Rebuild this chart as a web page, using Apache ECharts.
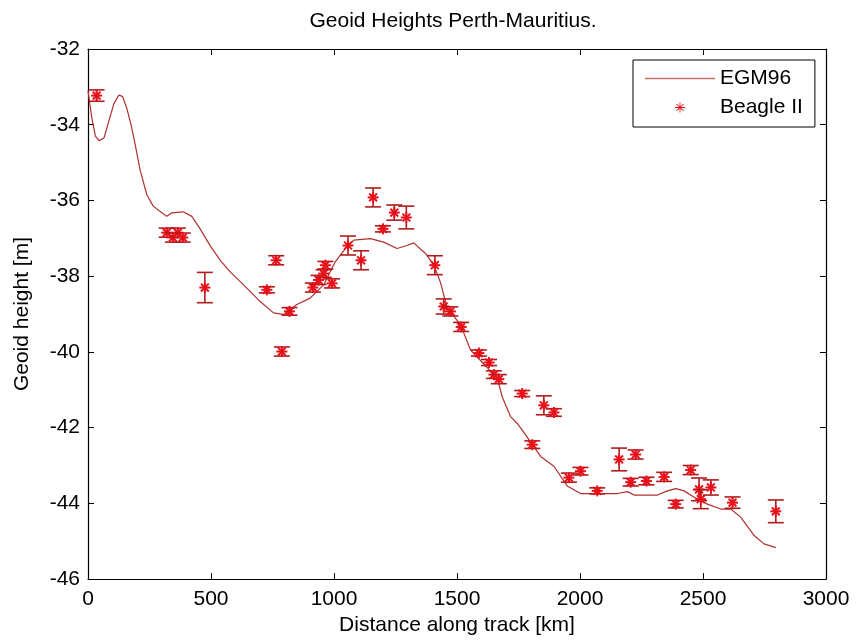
<!DOCTYPE html>
<html>
<head>
<meta charset="utf-8">
<script src="https://cdn.jsdelivr.net/npm/echarts@6/dist/echarts.min.js"></script>
<style>html,body{margin:0;padding:0;background:#fff;}#c{width:858px;height:641px;}</style>
</head>
<body>
<div id="c"></div>
<script>
// EGM96 model curve: distance [km], geoid height [m]
var egmX = [0,15,30,45,65,85,105,125,140,157,175,191,212,239,265,295,320,340,387,422,456,497,540,580,620,659,700,754,795,849,903,958,1005,1046,1080,1148,1202,1256,1297,1324,1372,1406,1433,1460,1514,1555,1609,1663,1684,1718,1745,1779,1840,1894,1948,2002,2084,2152,2193,2220,2315,2355,2389,2423,2464,2518,2572,2613,2654,2708,2748,2796];
var egmY = [-33.1,-33.8,-34.3,-34.42,-34.35,-33.9,-33.45,-33.22,-33.25,-33.55,-34.0,-34.5,-35.2,-35.85,-36.15,-36.3,-36.42,-36.33,-36.3,-36.42,-36.75,-37.2,-37.6,-37.9,-38.15,-38.4,-38.67,-38.97,-39.01,-38.75,-38.58,-38.23,-37.62,-37.27,-37.05,-37.01,-37.1,-37.27,-37.19,-37.12,-37.4,-37.71,-38.17,-38.84,-39.28,-39.95,-40.32,-40.68,-41.19,-41.71,-41.89,-42.19,-42.76,-43.02,-43.54,-43.74,-43.74,-43.74,-43.69,-43.78,-43.78,-43.67,-43.61,-43.67,-43.84,-44.02,-44.15,-44.15,-44.37,-44.85,-45.07,-45.17];

// Beagle II measurements: distance [km], geoid height [m], error [m]
var beagleX = [35,320,345,365,385,475,727,765,788,819,914,937,958,965,992,1057,1110,1159,1199,1245,1294,1410,1446,1473,1517,1589,1630,1650,1670,1765,1806,1853,1894,1955,2002,2070,2159,2206,2226,2270,2342,2389,2450,2484,2491,2532,2620,2796];
var beagleY = [-33.23,-36.85,-36.98,-36.85,-36.98,-38.3,-38.36,-37.58,-39.99,-38.93,-38.3,-38.1,-37.93,-37.71,-38.19,-37.19,-37.58,-35.92,-36.75,-36.32,-36.45,-37.71,-38.8,-38.93,-39.34,-40.03,-40.28,-40.6,-40.72,-41.1,-42.45,-41.41,-41.6,-43.32,-43.15,-43.67,-42.84,-43.44,-42.71,-43.41,-43.3,-44.02,-43.12,-43.63,-43.89,-43.58,-43.98,-44.21];
var beagleErr = [0.15,0.12,0.12,0.12,0.12,0.4,0.08,0.12,0.12,0.1,0.12,0.12,0.1,0.1,0.12,0.25,0.25,0.25,0.08,0.2,0.3,0.25,0.2,0.12,0.12,0.08,0.08,0.1,0.12,0.08,0.1,0.25,0.1,0.12,0.1,0.08,0.3,0.1,0.12,0.1,0.12,0.1,0.12,0.3,0.25,0.2,0.15,0.3];

var xTicks = [0,500,1000,1500,2000,2500,3000];
var yTicks = [-46,-44,-42,-40,-38,-36,-34,-32];

var FONT = "'Liberation Sans', Arial, sans-serif";
var lineColor = '#b03030';
var starColor = '#e8101a';
var barColor = '#b01c1c';

var egmData = egmX.map(function (x, i) { return [x, egmY[i]]; });
var beagleData = beagleX.map(function (x, i) { return [x, beagleY[i], beagleErr[i]]; });

var starPath = 'path://M-1,-0.09L1,-0.09L1,0.09L-1,0.09Z' +
  'M-0.09,-1L0.09,-1L0.09,1L-0.09,1Z' +
  'M-0.6434,-0.7707L0.7707,0.6434L0.6434,0.7707L-0.7707,-0.6434Z' +
  'M-0.7707,0.6434L0.6434,-0.7707L0.7707,-0.6434L-0.6434,0.7707Z';
var linePath = 'path://M0,0L70,0L70,1.3L0,1.3Z';

function renderBeagle(params, api) {
  var x = api.value(0), y = api.value(1), e = api.value(2);
  var c = api.coord([x, y]);
  var top = api.coord([x, y + e]);
  var bot = api.coord([x, y - e]);
  var cap = 8, r = 5.5;
  var barStyle = { stroke: barColor, lineWidth: 1.6 };
  var sStyle = { stroke: starColor, lineWidth: 2 };
  var d = r * 0.7071;
  return {
    type: 'group',
    children: [
      { type: 'line', shape: { x1: top[0], y1: top[1], x2: bot[0], y2: bot[1] }, style: barStyle },
      { type: 'line', shape: { x1: top[0] - cap, y1: top[1], x2: top[0] + cap, y2: top[1] }, style: barStyle },
      { type: 'line', shape: { x1: bot[0] - cap, y1: bot[1], x2: bot[0] + cap, y2: bot[1] }, style: barStyle },
      { type: 'line', shape: { x1: c[0] - r, y1: c[1], x2: c[0] + r, y2: c[1] }, style: sStyle },
      { type: 'line', shape: { x1: c[0], y1: c[1] - r, x2: c[0], y2: c[1] + r }, style: sStyle },
      { type: 'line', shape: { x1: c[0] - d, y1: c[1] - d, x2: c[0] + d, y2: c[1] + d }, style: sStyle },
      { type: 'line', shape: { x1: c[0] - d, y1: c[1] + d, x2: c[0] + d, y2: c[1] - d }, style: sStyle }
    ]
  };
}

var axisCommon = {
  type: 'value',
  axisLine: { show: true, onZero: false, lineStyle: { color: '#000', width: 1.2 } },
  axisTick: { show: true, inside: true, length: 6, lineStyle: { color: '#000', width: 1 } },
  splitLine: { show: false }
};

function plain(v) { return String(v); }

var chart = echarts.init(document.getElementById('c'), null, { renderer: 'canvas' });
chart.setOption({
  backgroundColor: '#ffffff',
  animation: false,
  textStyle: { fontFamily: FONT },
  title: {
    text: 'Geoid Heights Perth-Mauritius.',
    left: 453, top: 11, padding: 0,
    textAlign: 'center',
    textStyle: { fontFamily: FONT, fontSize: 21, fontWeight: 'normal', color: '#000' }
  },
  grid: { left: 88, right: 32, top: 49, bottom: 58, containLabel: false },
  legend: {
    orient: 'vertical',
    left: 633, top: 60,
    padding: [8, 12, 9, 12],
    itemWidth: 70, itemHeight: 10, itemGap: 8,
    backgroundColor: '#fff', borderColor: '#000', borderWidth: 1,
    selectedMode: false,
    textStyle: { fontFamily: FONT, fontSize: 21, lineHeight: 21, color: '#000' },
    data: [
      { name: 'EGM96', icon: linePath, itemStyle: { color: '#c87070', borderWidth: 0 } },
      { name: 'Beagle II', icon: starPath, itemStyle: { color: starColor, borderWidth: 0 } }
    ]
  },
  xAxis: [
    Object.assign({}, axisCommon, {
      position: 'bottom', min: xTicks[0], max: xTicks[xTicks.length - 1], interval: 500,
      name: 'Distance along track [km]', nameLocation: 'middle', nameGap: 34,
      nameTextStyle: { fontFamily: FONT, fontSize: 21, color: '#000' },
      axisLabel: { show: true, margin: 10, fontSize: 21, fontFamily: FONT, color: '#000', formatter: plain }
    }),
    Object.assign({}, axisCommon, {
      position: 'top', min: xTicks[0], max: xTicks[xTicks.length - 1], interval: 500,
      axisLabel: { show: false }
    })
  ],
  yAxis: [
    Object.assign({}, axisCommon, {
      position: 'left', min: yTicks[0], max: yTicks[yTicks.length - 1], interval: 2,
      name: 'Geoid height [m]', nameLocation: 'middle', nameGap: 55, nameRotate: 90,
      nameTextStyle: { fontFamily: FONT, fontSize: 21, color: '#000' },
      axisLabel: { show: true, margin: 8, fontSize: 21, fontFamily: FONT, color: '#000', formatter: plain }
    }),
    Object.assign({}, axisCommon, {
      position: 'right', min: yTicks[0], max: yTicks[yTicks.length - 1], interval: 2,
      axisLabel: { show: false }
    })
  ],
  series: [
    {
      name: 'EGM96', type: 'line', data: egmData, symbol: 'none',
      xAxisIndex: 0, yAxisIndex: 0,
      lineStyle: { color: lineColor, width: 1.2 },
      itemStyle: { color: lineColor },
      z: 2
    },
    {
      name: 'Beagle II', type: 'custom', data: beagleData,
      xAxisIndex: 0, yAxisIndex: 0,
      dimensions: ['x', 'y', 'err'],
      encode: { x: 0, y: 1 },
      itemStyle: { color: starColor },
      renderItem: renderBeagle,
      z: 3
    }
  ]
});
</script>
</body>
</html>
